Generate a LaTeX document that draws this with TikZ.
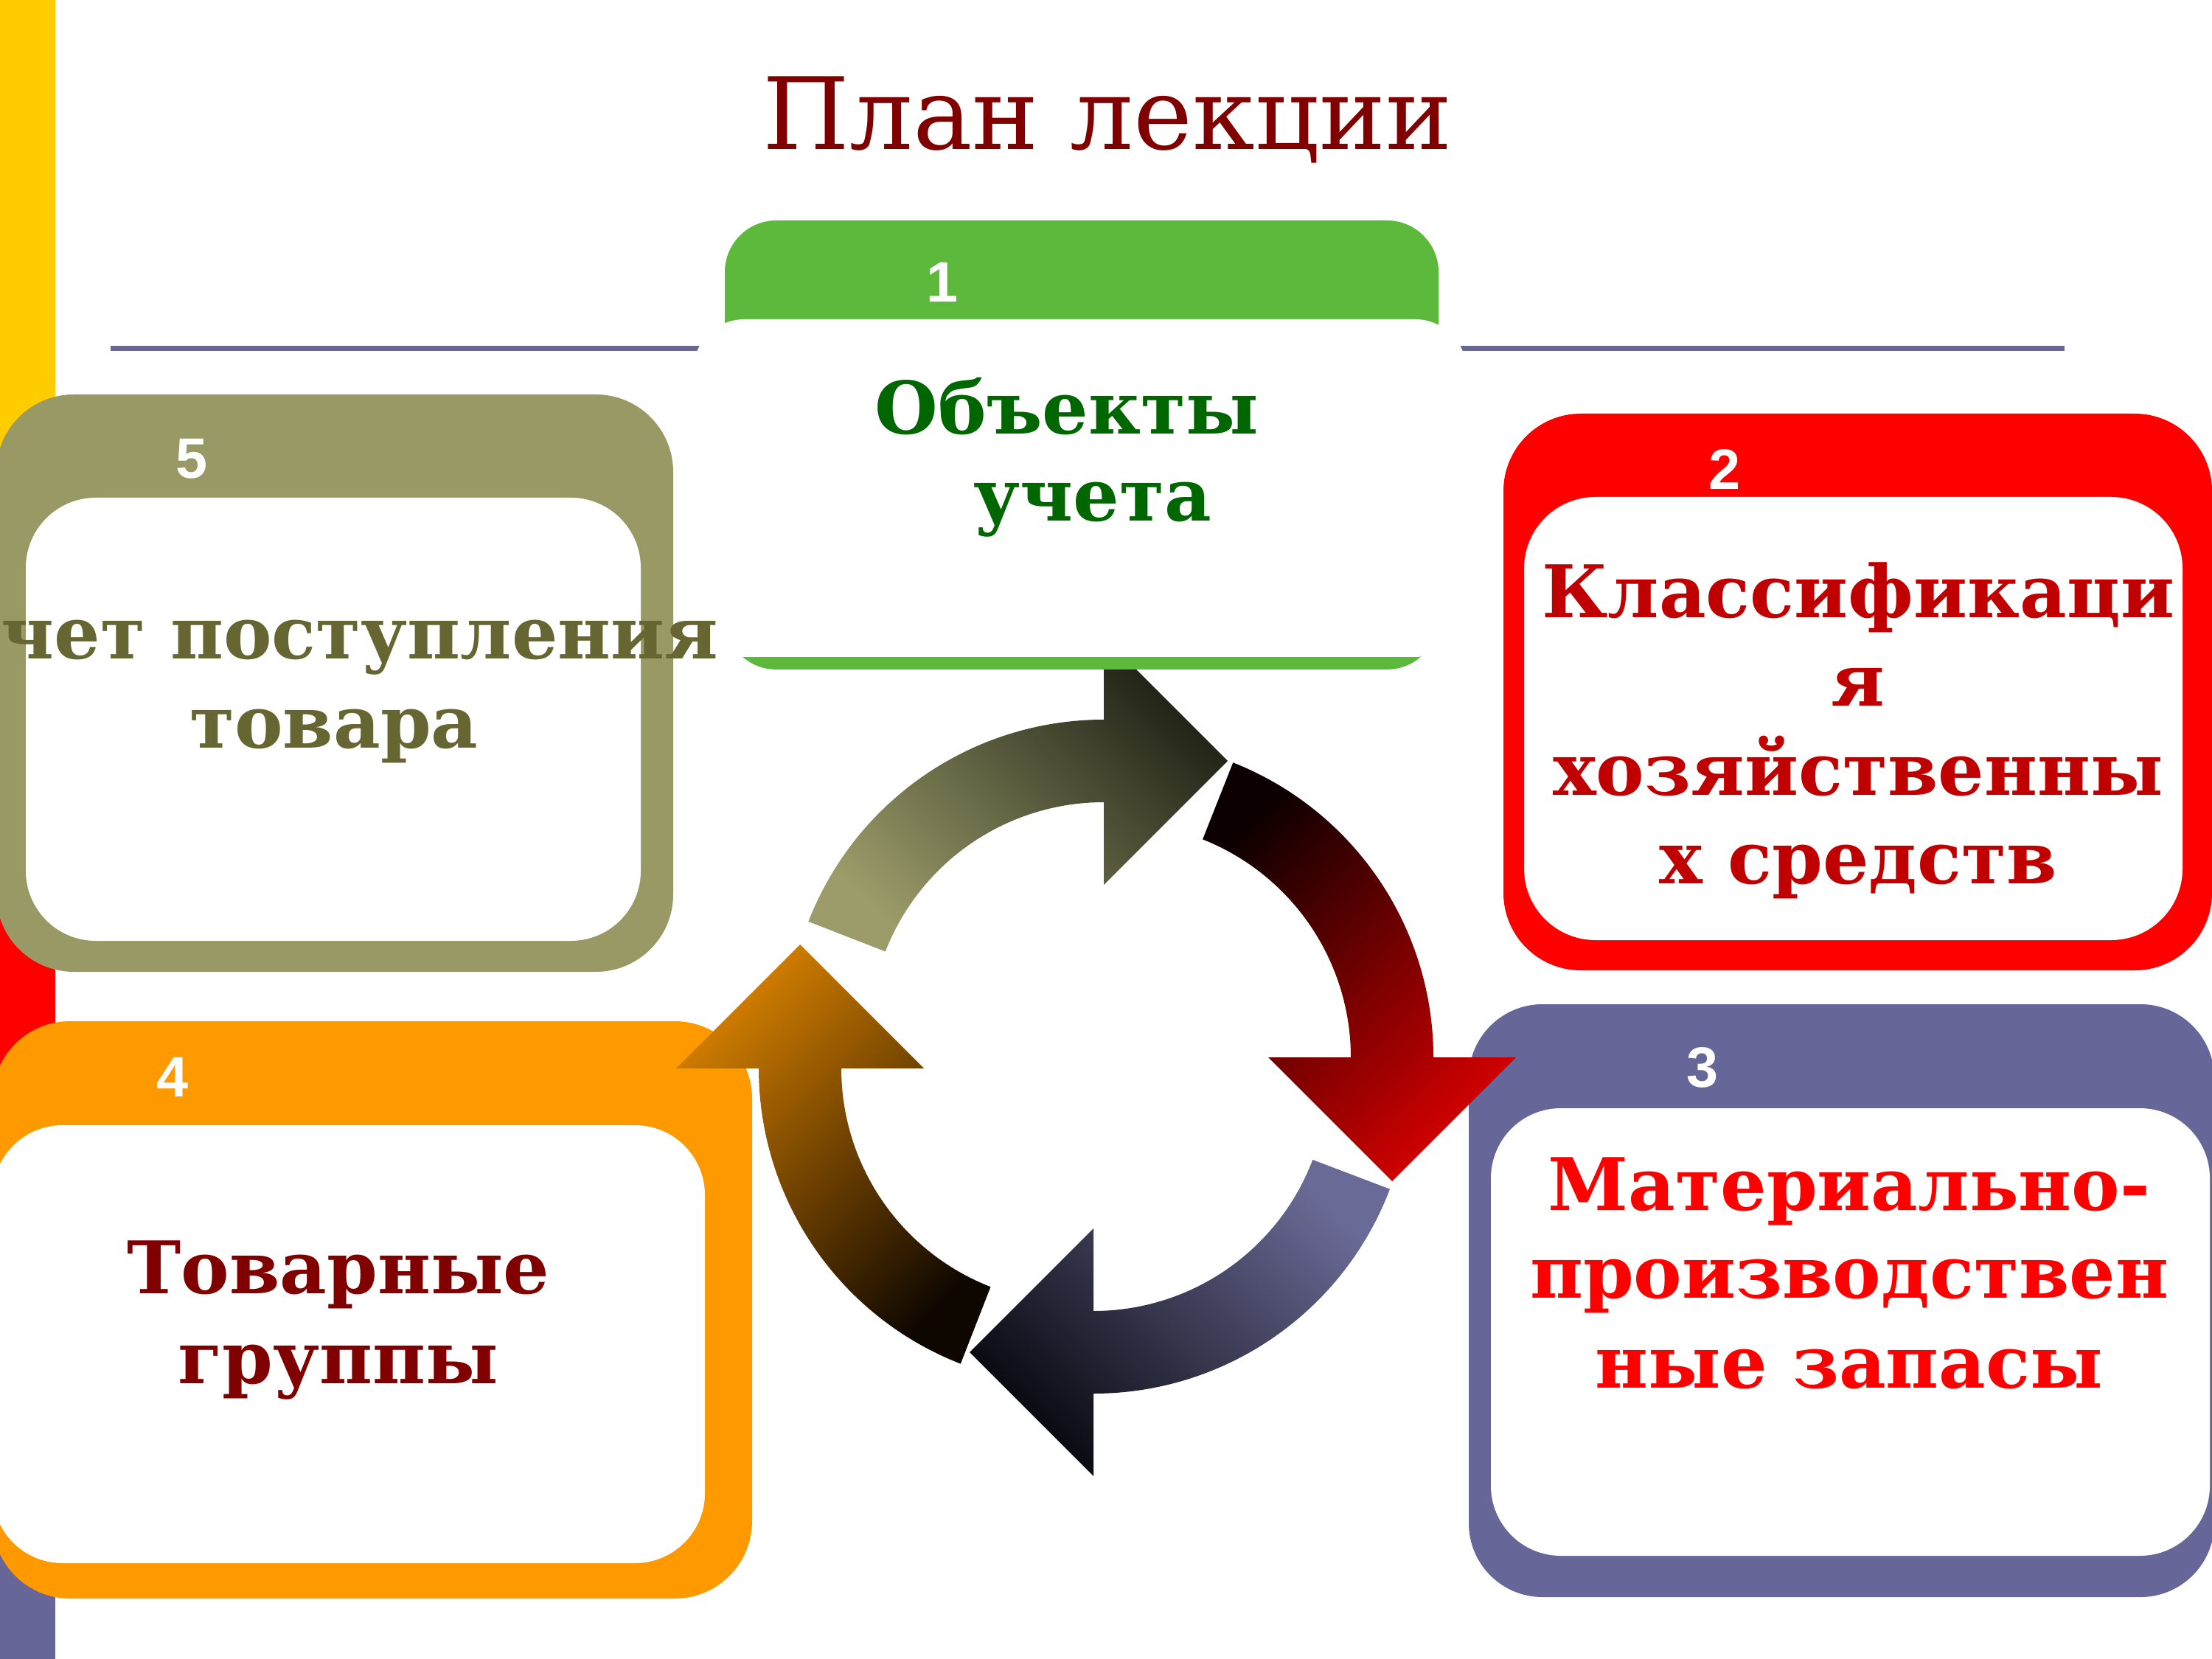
\documentclass[tikz,border=0pt]{standalone}
\usepackage{fontspec}
\usetikzlibrary{calc}
\newfontfamily\boxfont{DejaVu Serif}
\newfontfamily\titlefont{DejaVu Serif}
\newfontfamily\numfont{Liberation Sans}
\definecolor{baryellow}{HTML}{FFCC00}
\definecolor{barred}{HTML}{FF0000}
\definecolor{slate}{HTML}{666699}
\definecolor{olivebox}{HTML}{999966}
\definecolor{redbox}{HTML}{FF0000}
\definecolor{orangebox}{HTML}{FF9900}
\definecolor{greenbox}{HTML}{5CB93B}
\definecolor{titlecol}{HTML}{800000}
\definecolor{txtone}{HTML}{006600}
\definecolor{txtfive}{HTML}{666633}
\definecolor{txttwo}{HTML}{C00000}
\definecolor{txtthree}{HTML}{FF0000}
\definecolor{txtfour}{HTML}{800000}
\definecolor{aoneA}{HTML}{1E2115}
\definecolor{aoneB}{HTML}{9C9C6A}
\definecolor{atwoA}{HTML}{0D0000}
\definecolor{atwoB}{HTML}{D40000}
\definecolor{athreeA}{HTML}{6A6A96}
\definecolor{athreeB}{HTML}{08080E}
\definecolor{afourA}{HTML}{D27E00}
\definecolor{afourB}{HTML}{0E0700}
\tikzset{
  numlbl/.style={text=white, font=\numfont\bfseries\fontsize{22}{22}\selectfont, inner sep=0pt},
  boxtxt/.style={font=\boxfont\bfseries\fontsize{28}{34}\selectfont, inner sep=0pt, anchor=base},
  titletxt/.style={font=\titlefont\fontsize{38.5}{42}\selectfont, text=titlecol, inner sep=0pt, anchor=base},
  rule/.style={line width=0.07cm, draw=slate},
}
% circular arrow: center, tail angle, head angle
\newcommand\cycarrow[4]{%
  \shade[#4] ($#1+(#2:4.30)$) arc[start angle=#2, end angle=#3, radius=4.30]
    -- ($#1+(#3:5.42)$) -- ($#1+(#3:3.74)+(#3-90:1.68)$) -- ($#1+(#3:2.06)$)
    -- ($#1+(#3:3.18)$) arc[start angle=#3, end angle=#2, radius=3.18] -- cycle;}
\begin{document}
\begin{tikzpicture}
\fill[white] (0,0) rectangle (30,-22.5);
\useasboundingbox (0,0) rectangle (30,-22.5);
% side bar
\fill[baryellow] (0,0) rectangle (0.75,-7.5);
\fill[barred] (0,-7.5) rectangle (0.75,-15);
\fill[slate] (0,-15) rectangle (0.75,-22.5);
% rules
\coordinate (la) at (1.50,-4.73);
\coordinate (lb) at (9.60,-4.73);
\coordinate (ra) at (19.70,-4.73);
\coordinate (rb) at (28.00,-4.73);
\draw[rule] (la) -- (lb);
\draw[rule] (ra) -- (rb);
% title
\node[titletxt] (title) at (15.02,-2.03) {План лекции};
% box 5
\fill[olivebox, rounded corners=1.05cm] (-0.05,-5.35) rectangle (9.13,-13.18);
\fill[white, rounded corners=0.95cm] (0.35,-6.75) rectangle (8.69,-12.76);
% box 2
\fill[redbox, rounded corners=1.05cm] (20.39,-5.61) rectangle (30.0,-13.16);
\fill[white, rounded corners=0.97cm] (20.67,-6.74) rectangle (29.60,-12.75);
% box 3
\fill[slate, rounded corners=1.0cm] (19.92,-13.62) rectangle (30.03,-21.66);
\fill[white, rounded corners=0.95cm] (20.22,-15.03) rectangle (29.97,-21.10);
% box 4
\fill[orangebox, rounded corners=1.05cm] (-0.10,-13.85) rectangle (10.20,-21.68);
\fill[white, rounded corners=0.95cm] (-0.10,-15.26) rectangle (9.56,-21.20);
% arrows
\cycarrow{(14.97,-14.06)}{158.7}{90}{top color=aoneA, bottom color=aoneB, shading angle=-45}
\cycarrow{(15.14,-14.34)}{68.4}{0}{top color=atwoA, bottom color=atwoB, shading angle=45}
\cycarrow{(14.83,-14.60)}{-20.8}{-90}{top color=athreeA, bottom color=athreeB, shading angle=-45}
\cycarrow{(14.59,-14.49)}{248.7}{180}{top color=afourA, bottom color=afourB, shading angle=45}
% box 1
\fill[greenbox, rounded corners=0.7cm] (9.83,-2.99) rectangle (19.51,-9.08);
\fill[white, rounded corners=0.7cm] (9.40,-4.33) rectangle (19.89,-8.91);
% number labels
\node[numlbl] (n1) at (12.78,-3.83) {1};
\node[numlbl] (n2) at (23.39,-6.37) {2};
\node[numlbl] (n3) at (23.09,-14.48) {3};
\node[numlbl] (n4) at (2.34,-14.61) {4};
\node[numlbl] (n5) at (2.60,-6.22) {5};
% box texts
\node[boxtxt, text=txtone] (t1a) at (14.47,-5.89) {Объекты};
\node[boxtxt, text=txtone] (t1b) at (14.82,-7.07) {учета};
\node[boxtxt, text=txtfive] (t5a) at (4.48,-8.94) {Учет поступления};
\node[boxtxt, text=txtfive] (t5b) at (4.53,-10.14) {товара};
\node[boxtxt, text=txttwo] (t2a) at (25.20,-8.38) {Классификаци};
\node[boxtxt, text=txttwo] (t2b) at (25.20,-9.58) {я};
\node[boxtxt, text=txttwo] (t2c) at (25.20,-10.78) {хозяйственны};
\node[boxtxt, text=txttwo] (t2d) at (25.20,-11.98) {х средств};
\node[boxtxt, text=txtthree] (t3a) at (25.08,-16.41) {Материально-};
\node[boxtxt, text=txtthree] (t3b) at (25.08,-17.60) {производствен};
\node[boxtxt, text=txtthree] (t3c) at (25.08,-18.82) {ные запасы};
\node[boxtxt, text=txtfour] (t4a) at (4.59,-17.54) {Товарные};
\node[boxtxt, text=txtfour] (t4b) at (4.59,-18.76) {группы};
\end{tikzpicture}
\end{document}
